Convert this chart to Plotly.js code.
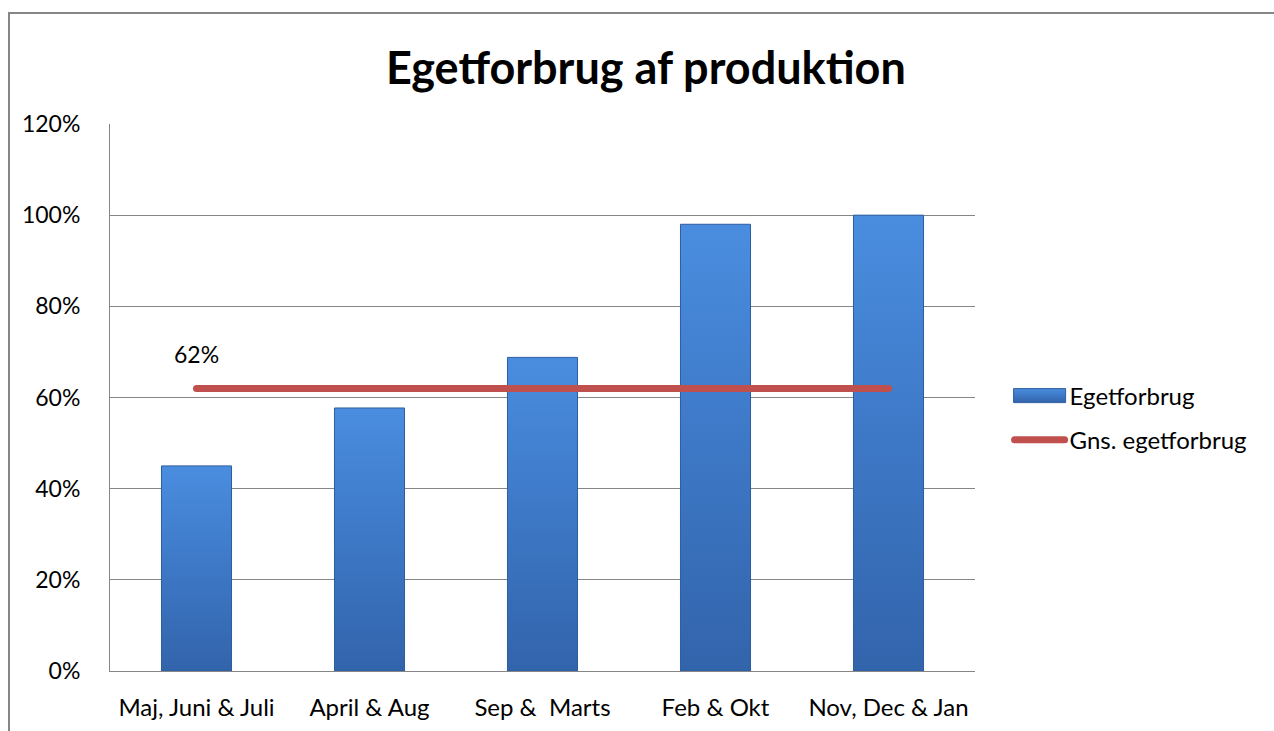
<!DOCTYPE html>
<html>
<head>
<meta charset="utf-8">
<script src="https://cdn.plot.ly/plotly-3.0.1.min.js"></script>
<style>
  html, body { margin: 0; padding: 0; background: #ffffff; overflow: hidden; }
  #frame { position: absolute; left: 8px; top: 12px; width: 1320px; height: 800px; border: 2px solid #868686; box-sizing: border-box; }
  #chart { position: absolute; left: 0; top: 0; width: 1274px; height: 731px; }
</style>
</head>
<body>
<div id="frame"></div>
<div id="chart"></div>
<svg width="0" height="0" style="position:absolute">
  <defs>
    <linearGradient id="barGrad" x1="0" y1="0" x2="0" y2="1">
      <stop offset="0" stop-color="#4a8ddf"/>
      <stop offset="0.5" stop-color="#3d78c6"/>
      <stop offset="1" stop-color="#3264ab"/>
    </linearGradient>
  </defs>
</svg>
<script>
const categories = ["Maj, Juni & Juli", "April & Aug", "Sep &  Marts", "Feb & Okt", "Nov, Dec & Jan"];
const egetforbrug = [0.45, 0.577, 0.688, 0.98, 1.0];
const gnsEgetforbrug = [0.62, 0.62, 0.62, 0.62, 0.62];
const yTickVals = [0, 0.2, 0.4, 0.6, 0.8, 1.0, 1.2];
const yTickText = ["0%", "20%", "40%", "60%", "80%", "100%", "120%"];
const seriesNames = ["Egetforbrug", "Gns. egetforbrug"];
const chartTitle = "Egetforbrug af produktion";

const font = "Lato, 'Open Sans', sans-serif";

const traces = [
  {
    type: "bar",
    name: seriesNames[0],
    legendgroup: "a",
    x: categories,
    y: egetforbrug,
    marker: { color: "#3d78c6", line: { color: "#2d5d9e", width: 1 } },
    hoverinfo: "skip"
  },
  {
    type: "scatter",
    mode: "lines",
    name: seriesNames[1],
    legendgroup: "b",
    x: categories,
    y: gnsEgetforbrug,
    line: { color: "#c0504d", width: 7 },
    hoverinfo: "skip"
  }
];

const layout = {
  width: 1274,
  height: 731,
  paper_bgcolor: "rgba(0,0,0,0)",
  plot_bgcolor: "rgba(0,0,0,0)",
  margin: { l: 110, r: 299, t: 124, b: 60 },
  font: { family: font, size: 24, color: "#000000" },
  title: {
    text: "<b>" + chartTitle + "</b>",
    font: { family: font, size: 45, color: "#000000" },
    x: 0.507, xref: "container", xanchor: "center",
    y: 0.907, yref: "container", yanchor: "middle"
  },
  bargap: 0.595,
  showlegend: true,
  legend: {
    x: 1.04, xanchor: "left",
    y: 0.4625, yanchor: "middle",
    font: { family: font, size: 24, color: "#000000" },
    itemwidth: 50,
    traceorder: "grouped",
    tracegroupgap: 10,
    bgcolor: "rgba(0,0,0,0)"
  },
  xaxis: {
    type: "category",
    showgrid: false,
    showline: true, linecolor: "#868686", linewidth: 1,
    ticks: "", ticklabelstandoff: 15,
    tickfont: { family: font, size: 24 },
    fixedrange: true
  },
  yaxis: {
    range: [0, 1.2],
    tickvals: yTickVals,
    ticktext: yTickText,
    showgrid: true, gridcolor: "#868686", gridwidth: 1,
    showline: true, linecolor: "#868686", linewidth: 1,
    zeroline: false,
    ticks: "", ticklabelstandoff: 24,
    tickfont: { family: font, size: 23 },
    fixedrange: true
  },
  annotations: [
    {
      x: categories[0],
      y: gnsEgetforbrug[0],
      xref: "x", yref: "y",
      text: Math.round(gnsEgetforbrug[0] * 100) + "%",
      showarrow: false,
      yshift: 34,
      font: { family: font, size: 23, color: "#000000" }
    }
  ]
};

Plotly.newPlot("chart", traces, layout, { displayModeBar: false, staticPlot: true }).then(function (gd) {
  gd.querySelectorAll(".barlayer .point path").forEach(function (p) {
    p.style.fill = "url(#barGrad)";
  });
  gd.querySelectorAll(".scatterlayer .js-line").forEach(function (p) {
    p.style.strokeLinecap = "round";
  });
  gd.querySelectorAll(".legend .traces").forEach(function (t, i) {
    if (i === 0) {
      t.querySelectorAll(".legendpoints path").forEach(function (p) {
        const tr = p.getAttribute("transform");
        p.setAttribute("d", "M-26,7H26V-7H-26Z");
        p.style.fill = "url(#barGrad)";
        p.style.stroke = "#2d5d9e";
        p.style.strokeWidth = "1px";
      });
    } else {
      t.querySelectorAll(".legendlines path").forEach(function (p) {
        p.style.strokeLinecap = "round";
      });
    }
  });
});
</script>
</body>
</html>
